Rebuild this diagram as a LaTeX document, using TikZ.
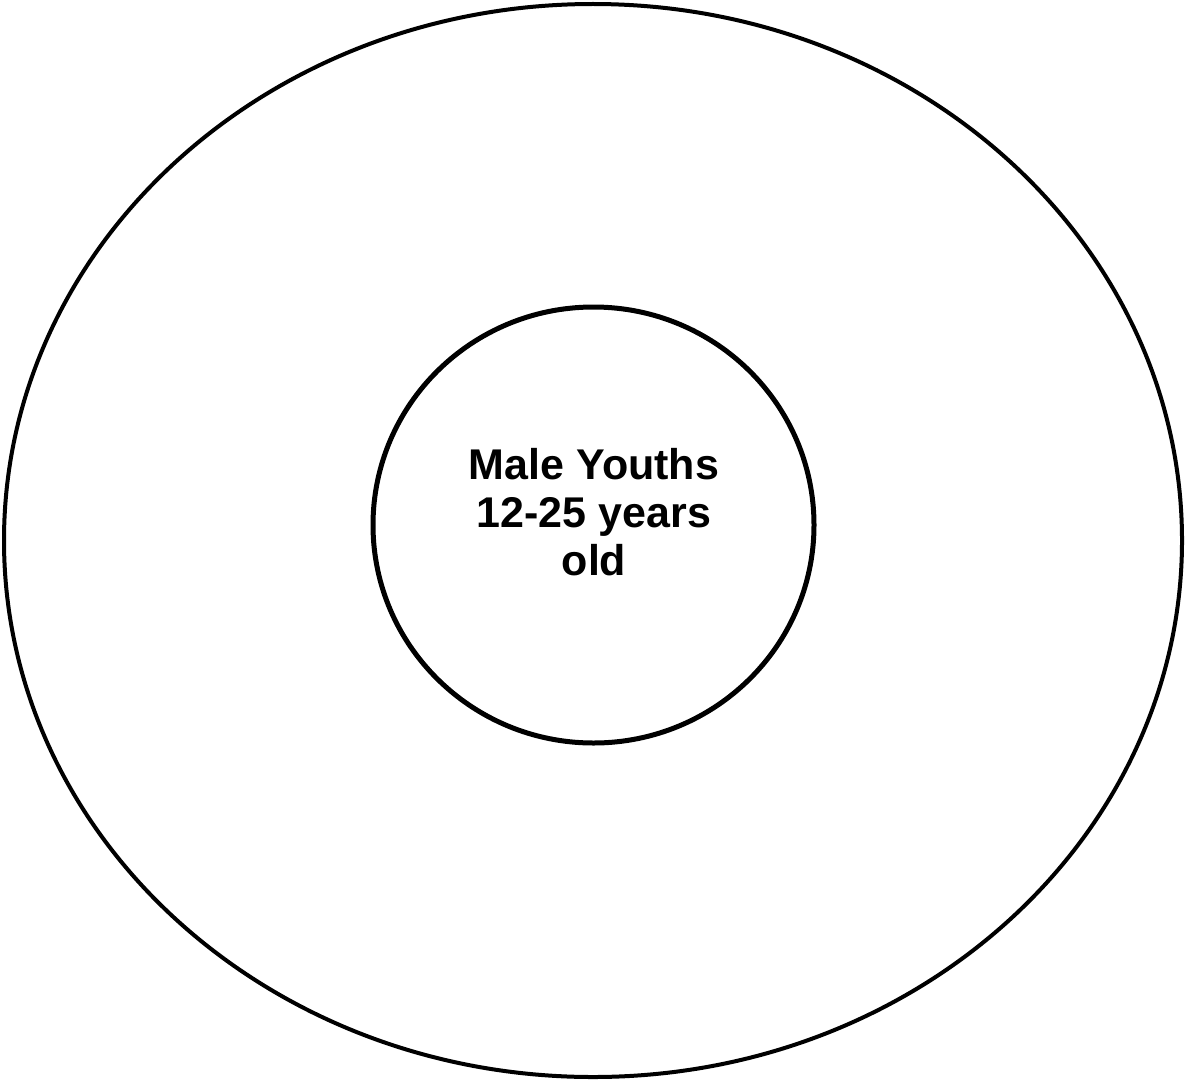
\documentclass[tikz,border=0pt]{standalone}
\usepackage{fontspec}
\setmainfont{Liberation Sans}
\usepackage{tikz}
\usetikzlibrary{shapes.geometric}

\begin{document}
\begin{tikzpicture}[x=0.5pt, y=-0.5pt,
        ring/.style={draw, ellipse, inner sep=0pt},
        agegroup/.style={align=center, font=\bfseries\fontsize{21.5}{24}\selectfont}]
        % we fix the page to the size of the picture
        \useasboundingbox (0,0) rectangle (1186,1081);

        % we draw the outer ring
        \node[ring, line width=2pt, minimum width=589pt, minimum height=536.5pt] (outer) at (593,540.5) {};

        % we draw the inner ring with the target group
        \node[ring, line width=2.5pt, minimum width=220.5pt, minimum height=218pt] (inner) at (593.5,525) {};
        \node[agegroup] (youths) at (594,512) {Male Youths\\12-25 years\\old};
    \end{tikzpicture}
\end{document}
